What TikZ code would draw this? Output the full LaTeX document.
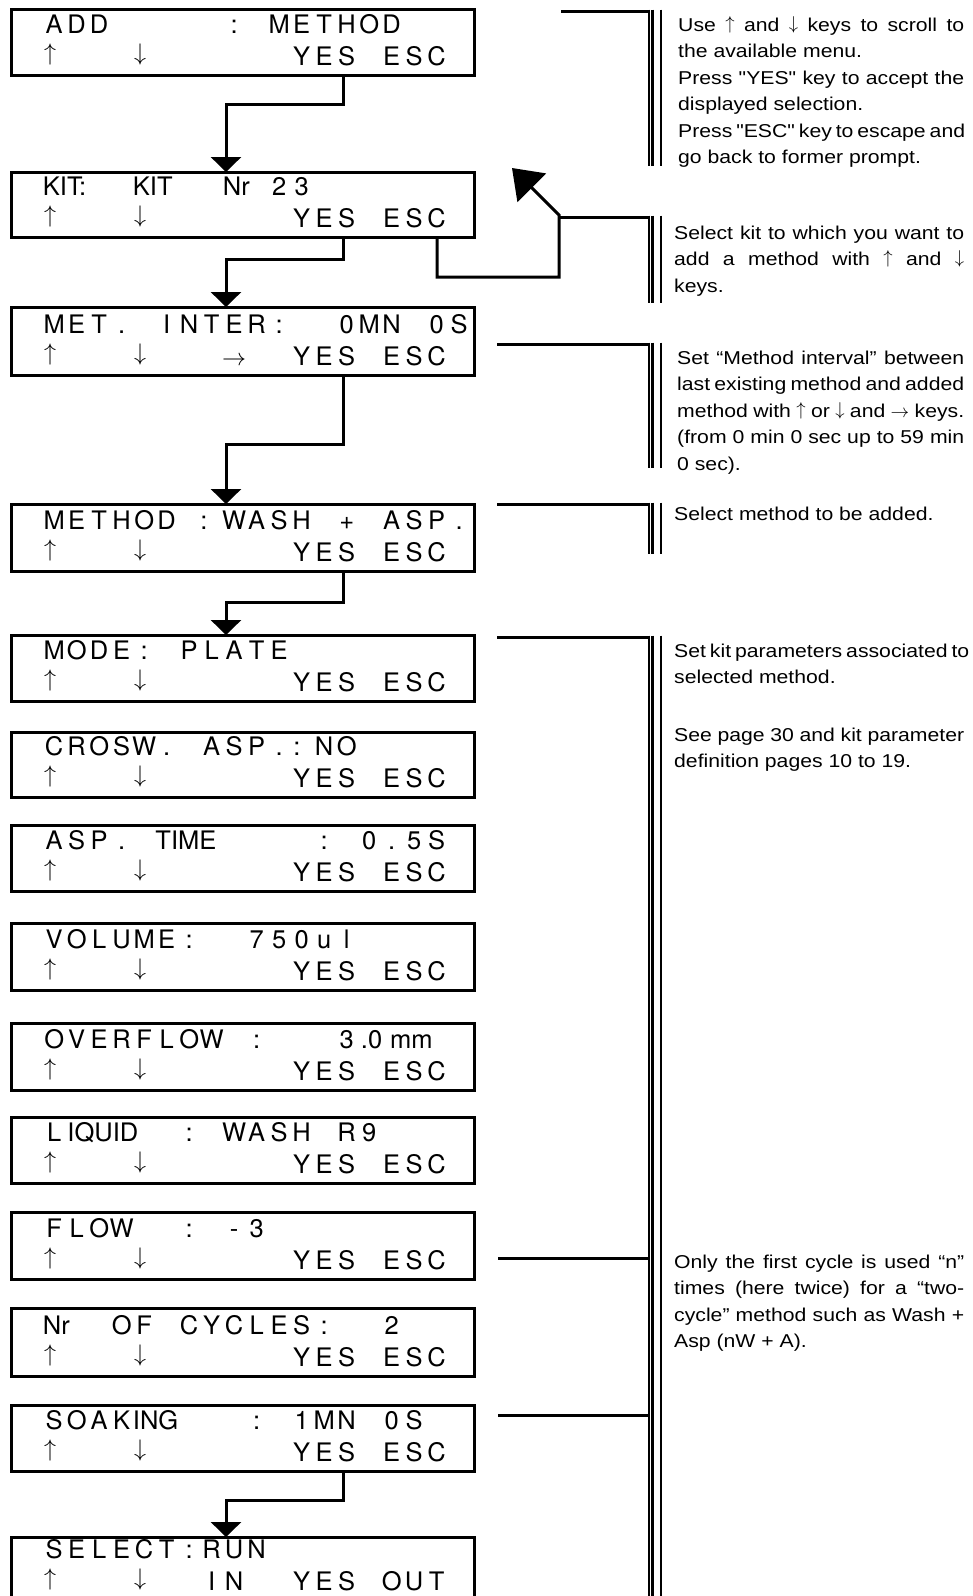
\RequirePackage{fix-cm}
\documentclass[tikz,border=0pt]{standalone}
\usepackage{fontspec}
\setmainfont{TeX Gyre Heros}
\newfontfamily\lcdfont{TeX Gyre Heros}
\newfontfamily\notefont[FakeStretch=1.14]{Liberation Sans}
\usetikzlibrary{arrows.meta,calc}

\makeatletter
\newlength\cw \setlength\cw{22.5pt}
\newcommand\lcd[1]{\@tfor\lcd@c:=#1\do{\makebox[\cw][c]{\lcd@c}}}
\makeatother
\newcommand\w[1]{\makebox[\cw][l]{#1}}
\newcommand\ua{{\kern-8pt\raisebox{4.5pt}{\fontsize{24}{24}\selectfont$\uparrow$}}}
\newcommand\da{{\kern-8pt\raisebox{4.5pt}{\fontsize{24}{24}\selectfont$\downarrow$}}}
\newcommand\ra{{\fontsize{24}{24}\selectfont$\rightarrow$}}
\newcommand\nua{\raisebox{2pt}{$\uparrow$}}
\newcommand\nda{\raisebox{2pt}{$\downarrow$}}
\newcommand\nra{$\rightarrow$}
\newcommand\fst{\rule{0pt}{19pt}}

\tikzset{
  lcdframe/.style={draw, line width=3pt, minimum width=462.5pt, anchor=north west, inner sep=0pt, outer sep=0pt},
  lcdrow/.style={anchor=base west, inner sep=0pt, font=\lcdfont\fontsize{25.5}{25.5}\selectfont},
  flow/.style={line width=3pt, -{Triangle[width=30pt,length=15pt]}},
  back/.style={line width=3pt, -{Triangle[width=40pt,length=28pt]}},
  hline/.style={line width=3pt},
  note/.style={anchor=north west, inner sep=0pt, align=left, font=\notefont\fontsize{18.6}{26.5}\selectfont},
}

\newcommand\lcdbox[5]{%
  \node[lcdframe, minimum height={#3-#2}] (#1) at (11.5,#2) {};
  \node[lcdrow] (#1-a) at (42.75,{#3-42}) {\lcd{#4}};
  \node[lcdrow] (#1-b) at (42.75,{#3-10}) {\lcd{#5}};
}
\newcommand\bracket[4]{% xstart, ytop, ybottom
  \draw[hline] (#1,#2) -- (650,#2);
  \draw[line width=2pt] (649,{#2-1.5}) -- (649,#3);
  \draw[line width=3.2pt] (652.6,{#2-1.5}) -- (652.6,#3);
  \draw[line width=1.8pt] (661,{#2-1.5}) -- (661,#3);
}

\begin{document}
\begin{tikzpicture}[x=1pt,y=-1pt]
\useasboundingbox (0,0) rectangle (973,1596);
\fill[white] (0,0) rectangle (973,1596);
\clip (0,0) rectangle (973,1596);

\lcdbox{b1}{9}{75}{ADD~~~~~:~METHOD}{\ua~~~\da~~~~~~YES~ESC}
\lcdbox{b2}{172}{237}{{\w{KIT:}}~~~{\w{KIT}}~~~{\w{Nr}}~23}{\ua~~~\da~~~~~~YES~ESC}
\lcdbox{b3}{307}{375}{MET.~INTER:~~0MN~0S}{\ua~~~\da~~~\ra~~YES~ESC}
\lcdbox{b4}{504}{571}{METHOD~{\w{:}}WASH~+~ASP.}{\ua~~~\da~~~~~~YES~ESC}
\lcdbox{b5}{635}{701}{MODE:~PLATE}{\ua~~~\da~~~~~~YES~ESC}
\lcdbox{b6}{732}{797}{CROSW.~ASP.{\w{\kern3pt:}}NO}{\ua~~~\da~~~~~~YES~ESC}
\lcdbox{b7}{825}{891}{ASP.~{\w{TIME}}~~~~~~:~0.5S}{\ua~~~\da~~~~~~YES~ESC}
\lcdbox{b8}{923}{990}{VOLUME:~~750ul}{\ua~~~\da~~~~~~YES~ESC}
\lcdbox{b9}{1023}{1090}{OVERFLOW~:~~~3{\w{\kern3pt.0\kern8pt mm}}}{\ua~~~\da~~~~~~YES~ESC}
\lcdbox{b10}{1117}{1183}{L{\w{\kern2pt IQUID}}~~~~:~WASH~R9}{\ua~~~\da~~~~~~YES~ESC}
\lcdbox{b11}{1212}{1279}{FLOW~~:~-3}{\ua~~~\da~~~~~~YES~ESC}
\lcdbox{b12}{1308}{1376}{{\w{Nr}}~~OF~CYCLES:~~2}{\ua~~~\da~~~~~~YES~ESC}
\lcdbox{b13}{1405}{1471}{SOAK{\w{ING}}~~~~:~1MN~0S}{\ua~~~\da~~~~~~YES~ESC}
\lcdbox{b14}{1537}{1600}{SELECT:RUN}{\ua~~~\da~~IN~~YES~OUT}

% connectors
\coordinate (sx) at (343,0);
\coordinate (tx) at (226,0);
\coordinate (ex) at (437,0);
\draw[flow] (b1.south -| sx) -- ++(0,29) -| (b2.north -| tx);
\draw[flow] (b2.south -| sx) -- ++(0,22) -| (b3.north -| tx);
\draw[flow] (b3.south -| sx) -- ++(0,69) -| (b4.north -| tx);
\draw[flow] (b4.south -| sx) -- ++(0,31) -| (b5.north -| tx);
\draw[flow] (b13.south -| sx) -- ++(0,29) -| (b14.north -| tx);

% escape feedback
\coordinate (fbk) at (559,215);
\coordinate (fbtip) at (512,168);
\draw[back] (b2.south -| ex) -- ++(0,40) -| (fbk) -- (fbtip);

% brackets
\bracket{561}{11}{166}{n1}
\bracket{559}{217}{303}{n2}
\bracket{497}{344}{468}{n3}
\bracket{497}{504}{554}{n4}
\bracket{497}{637}{1600}{n5}
\draw[hline] (498,1258) -- (650,1258);
\draw[hline] (498,1415) -- (650,1415);

% notes (first baseline = y + 19)
\node[note] (t1) at (678,12) {%
\fst\makebox[286pt][s]{Use \nua{} and \nda{} keys to scroll to}\\
the available menu.\\
\makebox[286pt][s]{Press "YES" key to accept the}\\
displayed selection.\\
\makebox[286pt][s]{Press "ESC" key to escape and}\\
go back to former prompt.};

\node[note] (t2) at (674,220) {%
\fst\makebox[290pt][s]{Select kit to which you want to}\\
\makebox[290pt][s]{add a method with \nua{} and \nda}\\
keys.};

\node[note] (t3) at (677,345) {%
\fst\makebox[287pt][s]{Set “Method interval” between}\\
\makebox[287pt][s]{last existing method and added}\\
\makebox[287pt][s]{method with \nua{} or \nda{} and \nra{} keys.}\\
\makebox[287pt][s]{(from 0 min 0 sec up to 59 min}\\
0 sec).};

\node[note] (t4) at (674,501) {\fst Select method to be added.};

\node[note] (t5) at (674,638) {%
\fst\makebox[290pt][s]{Set kit parameters associated to}\\
selected method.\\[31pt]
\makebox[290pt][s]{See page 30 and kit parameter}\\
definition pages 10 to 19.};

\node[note] (t6) at (674,1249) {%
\fst\makebox[290pt][s]{Only the first cycle is used “n”}\\
\makebox[290pt][s]{times (here twice) for a “two-}\\
\makebox[290pt][s]{cycle” method such as Wash +}\\
Asp (nW + A).};
\end{tikzpicture}
\end{document}
